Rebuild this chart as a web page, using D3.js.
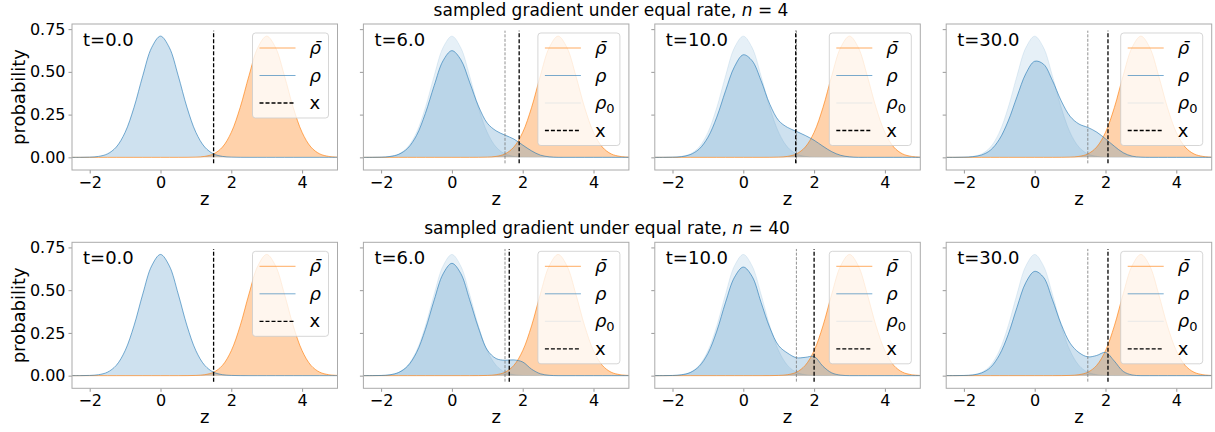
<!DOCTYPE html>
<html>
<head>
<meta charset="utf-8" />
<script src="https://d3js.org/d3.v7.min.js"></script>
<style>
  body { margin: 0; background: white; }
  svg text { font-family: "DejaVu Sans", sans-serif; fill: black; }
</style>
</head>
<body>
<div id="chart"></div>
<script>
// grid of z values the densities were read at (step 0.25)
var zGrid = [-2.5, -2.25, -2, -1.75, -1.5, -1.25, -1, -0.75, -0.5, -0.25, 0, 0.25, 0.5, 0.75, 1, 1.25,
             1.5, 1.75, 2, 2.25, 2.5, 2.75, 3, 3.25, 3.5, 3.75, 4, 4.25, 4.5, 4.75, 5];

// initial density rho_0 and target rho-bar
var rho0 = [0, 0.0002, 0.0013, 0.0056, 0.020, 0.060, 0.146, 0.291, 0.478, 0.642, 0.709, 0.642, 0.478, 0.291, 0.146, 0.060,
            0.020, 0.0056, 0.0013, 0.0002, 0, 0, 0, 0, 0, 0, 0, 0, 0, 0, 0];
var rhoBar = [0, 0, 0, 0, 0, 0, 0, 0, 0, 0, 0, 0, 0, 0.0002, 0.0013, 0.0056,
              0.020, 0.060, 0.146, 0.291, 0.478, 0.642, 0.709, 0.642, 0.478, 0.291, 0.146, 0.060, 0.020, 0.0056, 0.0013];

// rho at later times, n = 4
var rhoN4t6 = [0, 0.0002, 0.001, 0.005, 0.018, 0.053, 0.128, 0.257, 0.42, 0.565, 0.624, 0.572, 0.44, 0.30, 0.20, 0.155,
               0.13, 0.107, 0.072, 0.038, 0.013, 0.003, 0, 0, 0, 0, 0, 0, 0, 0, 0];
var rhoN4t10 = [0, 0.0002, 0.001, 0.004, 0.016, 0.048, 0.117, 0.235, 0.39, 0.53, 0.60, 0.565, 0.45, 0.31, 0.215, 0.175,
                0.152, 0.128, 0.10, 0.065, 0.033, 0.012, 0.003, 0, 0, 0, 0, 0, 0, 0, 0];
var rhoN4t30 = [0, 0.0002, 0.001, 0.004, 0.014, 0.042, 0.105, 0.212, 0.355, 0.49, 0.562, 0.545, 0.45, 0.33, 0.24, 0.195,
                0.175, 0.148, 0.108, 0.065, 0.027, 0.007, 0.001, 0, 0, 0, 0, 0, 0, 0, 0];
// rho at later times, n = 40
var rhoN40t6 = [0, 0.0002, 0.001, 0.005, 0.019, 0.056, 0.135, 0.27, 0.443, 0.595, 0.657, 0.598, 0.445, 0.28, 0.15, 0.10,
                0.09, 0.092, 0.08, 0.038, 0.011, 0.002, 0, 0, 0, 0, 0, 0, 0, 0, 0];
var rhoN40t10 = [0, 0.0002, 0.001, 0.005, 0.018, 0.054, 0.13, 0.26, 0.43, 0.575, 0.635, 0.58, 0.43, 0.28, 0.175, 0.132,
                 0.105, 0.107, 0.112, 0.055, 0.016, 0.003, 0, 0, 0, 0, 0, 0, 0, 0, 0];
var rhoN40t30 = [0, 0.0002, 0.001, 0.004, 0.016, 0.048, 0.12, 0.24, 0.40, 0.545, 0.61, 0.575, 0.445, 0.30, 0.19, 0.135,
                 0.11, 0.118, 0.136, 0.085, 0.025, 0.004, 0, 0, 0, 0, 0, 0, 0, 0, 0];

var times = ["0.0", "6.0", "10.0", "30.0"];
var xStart = 1.5;
var xN4 = [1.5, 1.9, 1.48, 2.07];
var xN40 = [1.5, 1.62, 2.0, 2.07];
var rowN = ["4", "40"];
var xTicks = [-2, 0, 2, 4];
var yTicks = [0, 0.25, 0.5, 0.75];

var width = 1215, height = 432;
var panelW = 265.5, panelH = 146;
var colX = [72, 363.4, 654.8, 946.2];
var rowY = [24, 242.3];

var blue = "#1f77b4", orange = "#ff7f0e";

var x = d3.scaleLinear().domain([-2.5, 5]).range([0, panelW]);
var y = d3.scaleLinear().domain([-0.074, 0.78]).range([panelH, 0]);

var svg = d3.select("#chart").append("svg")
    .attr("width", width)
    .attr("height", height);
svg.append("rect").attr("width", width).attr("height", height).attr("fill", "white");

var area = d3.area()
    .x(function(d) { return x(d[0]); })
    .y0(y(0))
    .y1(function(d) { return y(d[1]); })
    .curve(d3.curveCatmullRom.alpha(0.5));
var line = d3.line()
    .x(function(d) { return x(d[0]); })
    .y(function(d) { return y(d[1]); })
    .curve(d3.curveCatmullRom.alpha(0.5));

function pairs(arr) {
    return zGrid.map(function(z, i) { return [z, arr[i]]; });
}

var panels = [];
[[rho0, rhoN4t6, rhoN4t10, rhoN4t30], [rho0, rhoN40t6, rhoN40t10, rhoN40t30]].forEach(function(rs, r) {
    rs.forEach(function(rho, c) {
        panels.push({row: r, col: c, t: times[c], rho: rho, xv: (r == 0 ? xN4 : xN40)[c], init: c > 0});
    });
});

// row titles
rowN.forEach(function(n, r) {
    var t = svg.append("text")
        .attr("x", r == 0 ? 611 : 607)
        .attr("y", r == 0 ? 16 : 234)
        .attr("text-anchor", "middle")
        .style("font-size", "17px");
    t.append("tspan").text("sampled gradient under equal rate, ");
    t.append("tspan").style("font-style", "italic").text("n");
    t.append("tspan").text(" = " + n);
});

svg.append("defs").append("clipPath").attr("id", "clip")
    .append("rect").attr("width", panelW).attr("height", panelH);

panels.forEach(function(p) {
    var g = svg.append("g")
        .attr("transform", "translate(" + colX[p.col] + "," + rowY[p.row] + ")");
    var plot = g.append("g").attr("clip-path", "url(#clip)");

    // fills
    plot.append("path").attr("d", area(pairs(rhoBar)))
        .attr("fill", orange).attr("fill-opacity", 0.35);
    if (p.init) {
        plot.append("path").attr("d", area(pairs(rho0)))
            .attr("fill", blue).attr("fill-opacity", 0.11);
    }
    plot.append("path").attr("d", area(pairs(p.rho)))
        .attr("fill", blue).attr("fill-opacity", 0.22);

    // lines
    plot.append("path").attr("d", line(pairs(rhoBar)))
        .attr("fill", "none").attr("stroke", orange).attr("stroke-opacity", 0.65).attr("stroke-width", 1);
    plot.append("path").attr("d", line(pairs(p.rho)))
        .attr("fill", "none").attr("stroke", blue).attr("stroke-opacity", 0.6).attr("stroke-width", 1);
    if (p.init) {
        plot.append("path").attr("d", line(pairs(rho0)))
            .attr("fill", "none").attr("stroke", blue).attr("stroke-opacity", 0.1).attr("stroke-width", 1);
        plot.append("line")
            .attr("x1", x(xStart)).attr("x2", x(xStart))
            .attr("y1", y(-0.035)).attr("y2", y(0.741))
            .attr("stroke", "#777").attr("stroke-opacity", 0.8).attr("stroke-width", 1)
            .attr("stroke-dasharray", "3,1.5");
    }
    plot.append("line")
        .attr("x1", x(p.xv)).attr("x2", x(p.xv))
        .attr("y1", y(-0.035)).attr("y2", y(0.741))
        .attr("stroke", "black").attr("stroke-width", 1.3)
        .attr("stroke-dasharray", "4,2");

    // axes
    var xAxis = d3.axisBottom(x).tickValues(xTicks).tickSize(3.5).tickPadding(3);
    var yAxis = d3.axisLeft(y).tickValues(yTicks).tickSize(3.5).tickPadding(3)
        .tickFormat(p.col == 0 ? d3.format(".2f") : "");
    var gx = g.append("g").attr("transform", "translate(0," + panelH + ")").call(xAxis);
    var gy = g.append("g").call(yAxis);
    [gx, gy].forEach(function(a) {
        a.select(".domain").remove();
        a.selectAll(".tick line").attr("stroke", "#999");
        a.selectAll(".tick text").style("font-size", "16px")
            .style("font-family", "DejaVu Sans, sans-serif").attr("fill", "black");
    });
    g.append("rect").attr("width", panelW).attr("height", panelH)
        .attr("fill", "none").attr("stroke", "#aaa").attr("stroke-width", 1);

    // labels
    g.append("text")
        .attr("x", panelW / 2).attr("y", panelH + 35)
        .attr("text-anchor", "middle").style("font-size", "18px").text("z");
    if (p.col == 0) {
        g.append("text")
            .attr("transform", "translate(-47," + (panelH / 2) + ") rotate(-90)")
            .attr("text-anchor", "middle").style("font-size", "18px").text("probability");
    }
    g.append("text")
        .attr("x", 11).attr("y", 22)
        .style("font-size", "18px").text("t=" + p.t);

    // legend
    var items = [{k: "bar", c: orange, o: 0.65}, {k: "rho", c: blue, o: 0.6}];
    if (p.init) items.push({k: "rho0", c: blue, o: 0.1});
    items.push({k: "x", c: "black", o: 1, dash: "4,2"});
    var lw = p.init ? 82 : 76;
    var lh = 30 + 27.5 * (items.length - 1);
    var leg = g.append("g").attr("transform", "translate(" + (panelW - 9 - lw) + ",9)");
    leg.append("rect").attr("width", lw).attr("height", lh).attr("rx", 3)
        .attr("fill", "white").attr("fill-opacity", 0.8)
        .attr("stroke", "#ccc").attr("stroke-opacity", 0.8);
    var rows = leg.selectAll(".li").data(items).enter().append("g")
        .attr("class", "li")
        .attr("transform", function(d, i) { return "translate(0," + (15 + 27.5 * i) + ")"; });
    rows.append("line")
        .attr("x1", 7).attr("x2", 43)
        .attr("stroke", function(d) { return d.c; })
        .attr("stroke-opacity", function(d) { return d.o; })
        .attr("stroke-width", function(d) { return d.k == "x" ? 1.3 : 1; })
        .attr("stroke-dasharray", function(d) { return d.dash || null; });
    rows.each(function(d) {
        var t = d3.select(this).append("text")
            .attr("x", 57).attr("y", 6)
            .style("font-size", "18px");
        if (d.k == "bar") t.style("font-style", "italic").text("\u03c1\u0304");
        else if (d.k == "rho") t.style("font-style", "italic").text("\u03c1");
        else if (d.k == "rho0") {
            t.append("tspan").style("font-style", "italic").text("\u03c1");
            t.append("tspan").attr("dy", 4).style("font-size", "13px").text("0");
        } else t.text("x");
    });
});
</script>
</body>
</html>
